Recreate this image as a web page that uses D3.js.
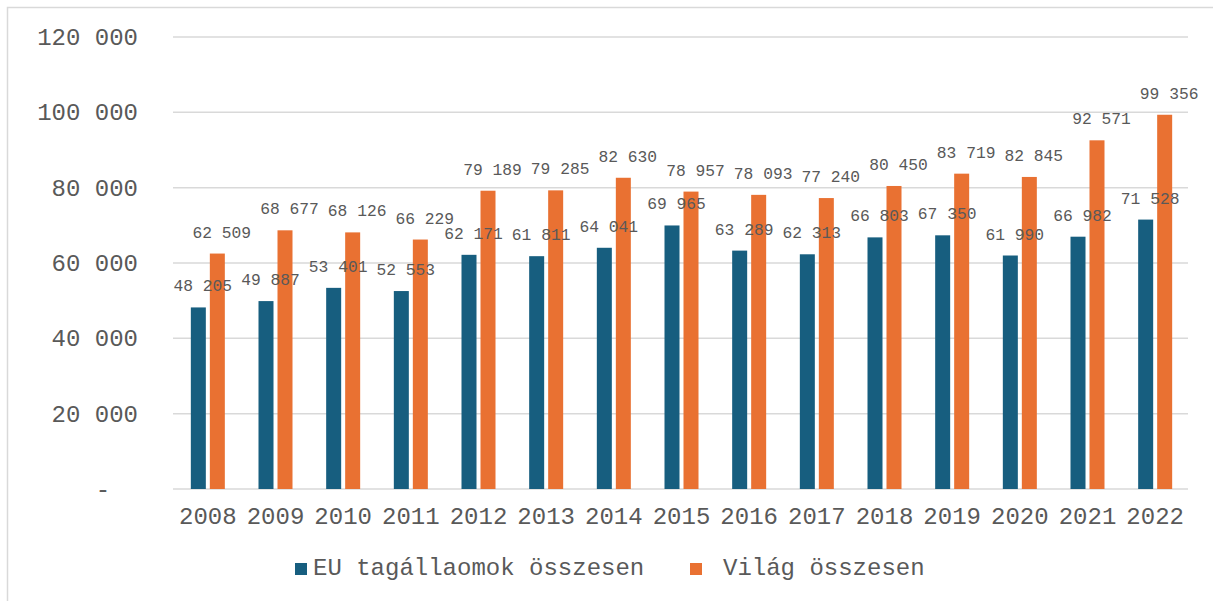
<!DOCTYPE html>
<html>
<head>
<meta charset="utf-8">
<script src="https://cdn.jsdelivr.net/npm/d3@7"></script>
<style>
  body { margin: 0; background: #fff; }
  text { font-family: "Liberation Mono", monospace; fill: #595959; }
</style>
</head>
<body>
<div id="chart"></div>
<script>
var years = ["2008","2009","2010","2011","2012","2013","2014","2015","2016","2017","2018","2019","2020","2021","2022"];
var euValues = [48205, 49887, 53401, 52553, 62171, 61811, 64041, 69965, 63289, 62313, 66803, 67350, 61990, 66982, 71528];
var worldValues = [62509, 68677, 68126, 66229, 79189, 79285, 82630, 78957, 78093, 77240, 80450, 83719, 82845, 92571, 99356];
var seriesNames = ["EU tagállaomok összesen", "Világ összesen"];
var yTicks = [0, 20000, 40000, 60000, 80000, 100000, 120000];

var colors = ["#175e7f", "#e97132"];
var W = 1213, H = 601;

var svg = d3.select("#chart").append("svg")
  .attr("width", W)
  .attr("height", H);

// frame
svg.append("rect")
  .attr("x", 7.5).attr("y", 7.5)
  .attr("width", W + 10).attr("height", H + 10)
  .attr("fill", "none")
  .attr("stroke", "#d9d9d9")
  .attr("stroke-width", 1.5);

var x0 = d3.scaleBand().domain(years).range([173, 1188]);
var x1 = d3.scaleBand().domain([0, 1]).range([0, 34]).paddingInner(2 - 34 / 19);
var y = d3.scaleLinear().domain([0, 120000]).range([489, 37]);

function fmt(v) {
  return d3.format(",")(v).replace(/,/g, " ");
}

// gridlines
svg.append("g").selectAll("line")
  .data(yTicks)
  .join("line")
  .attr("x1", 173).attr("x2", 1188)
  .attr("y1", function(d) { return y(d); })
  .attr("y2", function(d) { return y(d); })
  .attr("stroke", "#d9d9d9")
  .attr("stroke-width", 1.5);

// y labels
svg.append("g").selectAll("text")
  .data(yTicks)
  .join("text")
  .attr("x", function(d) { return d === 0 ? 103 : 138; })
  .attr("y", function(d) { return y(d) + 8; })
  .attr("text-anchor", function(d) { return d === 0 ? "middle" : "end"; })
  .style("font-size", "24px")
  .text(function(d) { return d === 0 ? "-" : fmt(d); });

// x labels
svg.append("g").selectAll("text")
  .data(years)
  .join("text")
  .attr("x", function(d) { return x0(d) + x0.bandwidth() / 2 + 1; })
  .attr("y", 524)
  .attr("text-anchor", "middle")
  .style("font-size", "24px")
  .text(function(d) { return d; });

var series = [euValues, worldValues];
var off = x0.bandwidth() / 2 - 17 + 1;
var barsG = svg.append("g");
var labelsG = svg.append("g");
series.forEach(function(vals, s) {
  barsG.append("g").selectAll("rect")
    .data(vals)
    .join("rect")
    .attr("x", function(d, i) { return x0(years[i]) + off + x1(s); })
    .attr("y", function(d) { return y(d); })
    .attr("width", x1.bandwidth())
    .attr("height", function(d) { return y(0) - y(d); })
    .attr("fill", colors[s]);

  labelsG.append("g").selectAll("text")
    .data(vals)
    .join("text")
    .attr("x", function(d, i) { return x0(years[i]) + off + x1(s) + x1.bandwidth() / 2 + 4.5; })
    .attr("y", function(d) { return y(d) - 16; })
    .attr("text-anchor", "middle")
    .style("font-size", "16.3px")
    .text(function(d) { return fmt(d); });
});

// legend
var legendX = [295, 690];
var textX = [313, 723];
seriesNames.forEach(function(name, s) {
  svg.append("rect")
    .attr("x", legendX[s]).attr("y", 563)
    .attr("width", 12).attr("height", 12)
    .attr("fill", colors[s]);
  svg.append("text")
    .attr("x", textX[s]).attr("y", 575)
    .style("font-size", "24px")
    .text(name);
});
</script>
</body>
</html>
